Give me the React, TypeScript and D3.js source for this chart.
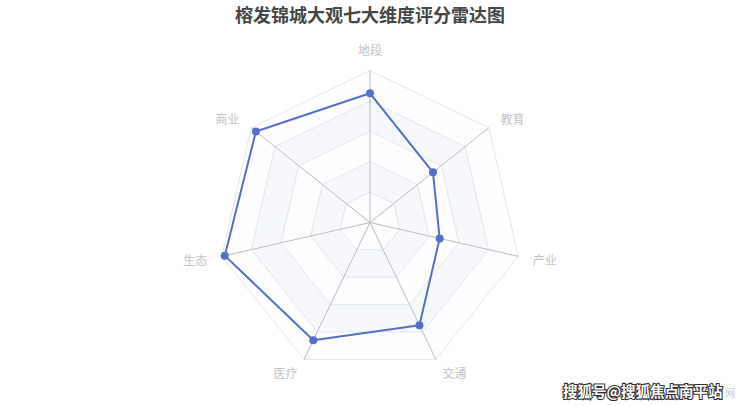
import { useEffect, useRef } from 'react'
import * as d3 from 'd3'

const indicators = ['地段', '教育', '产业', '交通', '医疗', '生态', '商业']
const scores = [8.5, 5.3, 4.7, 7.5, 8.6, 9.8, 9.6]
const maxScore = 10
const splitNumber = 5
const titleText = '榕发锦城大观七大维度评分雷达图'
const watermark = '搜狐号@搜狐焦点南平站'

const width = 740
const height = 406

export default function App() {
  const svgRef = useRef<SVGSVGElement>(null)

  useEffect(() => {
    if (!svgRef.current) return
    const svg = d3.select(svgRef.current)
    svg.selectAll('*').remove()

    const cx = 370
    const cy = 222.5
    const radius = 152
    const n = indicators.length
    const angle = (i: number) => -Math.PI / 2 + (i * 2 * Math.PI) / n

    const r = d3.scaleLinear().domain([0, maxScore]).range([0, radius])
    const levels = d3.range(1, splitNumber + 1).map(k => (k * maxScore) / splitNumber)

    const g = svg.append('g').attr('transform', `translate(${cx},${cy})`)
    const ring = (v: number) =>
      indicators.map((_, i) => [r(v) * Math.cos(angle(i)), r(v) * Math.sin(angle(i))] as [number, number])
    const poly = (pts: [number, number][]) => 'M' + pts.map(p => p.join(',')).join('L') + 'Z'

    // Split areas (alternating bands)
    const areaColors = ['rgba(250,250,250,0.2)', 'rgba(210,219,238,0.2)']
    levels.forEach((v, k) => {
      const outer = ring(v)
      const inner = k === 0 ? null : ring(levels[k - 1])
      let d = poly(outer)
      if (inner) d += poly(inner.slice().reverse())
      g.append('path')
        .attr('d', d)
        .attr('fill', areaColors[k % 2])
        .attr('fill-rule', 'evenodd')
    })

    // Split lines
    levels.forEach(v => {
      g.append('path')
        .attr('d', poly(ring(v)))
        .attr('fill', 'none')
        .attr('stroke', '#E0E6F1')
        .attr('stroke-width', 1)
    })

    // Axis lines
    indicators.forEach((_, i) => {
      g.append('line')
        .attr('x1', 0)
        .attr('y1', 0)
        .attr('x2', radius * Math.cos(angle(i)))
        .attr('y2', radius * Math.sin(angle(i)))
        .attr('stroke', '#bbbbbb')
        .attr('stroke-width', 1)
    })

    // Indicator names
    const nameGap = 15
    indicators.forEach((name, i) => {
      const a = angle(i)
      const c = Math.cos(a)
      const s = Math.sin(a)
      const x = (radius + nameGap) * c
      const y = (radius + nameGap) * s
      const anchor = Math.abs(c) < 1e-4 ? 'middle' : c > 0 ? 'start' : 'end'
      const top = Math.abs(c) < 1e-4 && s < 0
      g.append('text')
        .attr('x', x)
        .attr('y', top ? y - 6 : y)
        .attr('text-anchor', anchor)
        .attr('dominant-baseline', 'central')
        .style('font-family', '"Noto Sans CJK SC", sans-serif')
        .style('font-size', '12px')
        .style('fill', '#c4c4c4')
        .text(name)
    })

    // Data polygon
    const pts = scores.map((v, i) => [r(v) * Math.cos(angle(i)), r(v) * Math.sin(angle(i))] as [number, number])
    g.append('path')
      .attr('d', d3.line().curve(d3.curveLinearClosed)(pts) || '')
      .attr('fill', 'none')
      .attr('stroke', '#5470c6')
      .attr('stroke-width', 2)
      .attr('stroke-linejoin', 'round')

    g.selectAll('circle.pt')
      .data(pts)
      .enter()
      .append('circle')
      .attr('class', 'pt')
      .attr('cx', d => d[0])
      .attr('cy', d => d[1])
      .attr('r', 4)
      .attr('fill', '#5470c6')

    // Title
    svg.append('text')
      .attr('x', 370)
      .attr('y', 14)
      .attr('text-anchor', 'middle')
      .attr('dominant-baseline', 'central')
      .style('font-family', '"Noto Sans CJK SC", sans-serif')
      .style('font-size', '18px')
      .style('font-weight', 'bold')
      .style('fill', '#464646')
      .text(titleText)

    // Watermark
    const wm = svg.append('g').attr('transform', 'translate(563,390)')
    wm.append('text')
      .attr('dominant-baseline', 'central')
      .style('font-family', '"Noto Sans CJK SC", sans-serif')
      .style('font-size', '14.5px')
      .style('font-weight', 'bold')
      .style('fill', '#ffffff')
      .style('stroke', '#333333')
      .style('stroke-width', 2.2)
      .style('paint-order', 'stroke')
      .text(watermark)
    wm.append('text')
      .attr('x', 162)
      .attr('y', 2)
      .attr('dominant-baseline', 'central')
      .style('font-family', '"Noto Sans CJK SC", sans-serif')
      .style('font-size', '10px')
      .style('fill', '#cccccc')
      .text('网')
  }, [])

  return (
    <svg
      ref={svgRef}
      width={width}
      height={height}
      style={{ position: 'absolute', left: 0, top: 0, background: '#ffffff' }}
    />
  )
}
